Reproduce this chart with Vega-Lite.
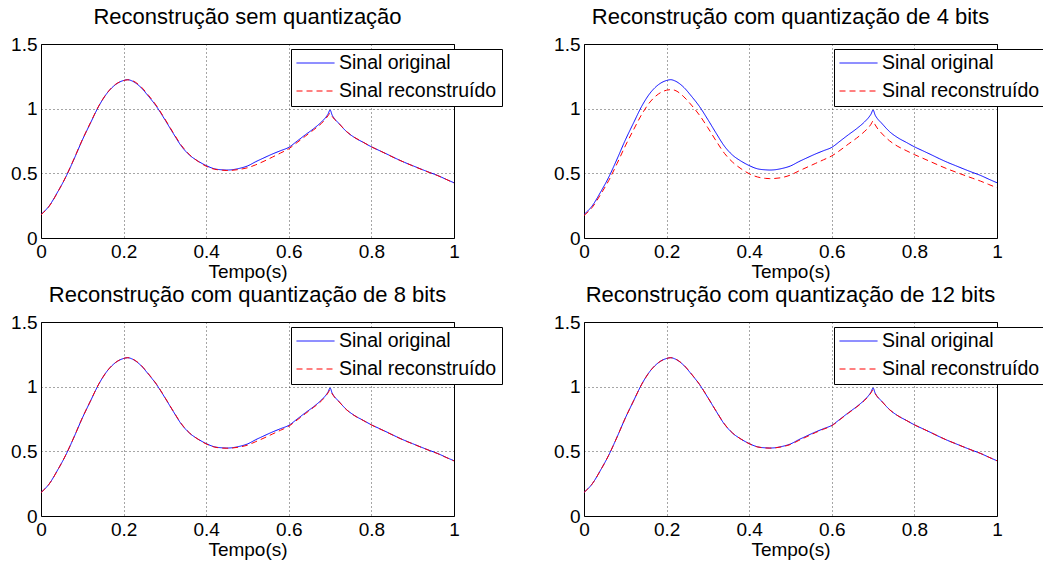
{
  "$schema": "https://vega.github.io/schema/vega-lite/v6.json",
  "background": "white",
  "padding": {"left": 10, "top": 5, "right": 0, "bottom": 0},
  "datasets": {
    "sig": [
      {"t":0.00,"orig":0.182,"q0":0.180,"q4":0.174,"q8":0.181,"q12":0.182},
      {"t":0.02,"orig":0.249,"q0":0.246,"q4":0.237,"q8":0.248,"q12":0.249},
      {"t":0.04,"orig":0.354,"q0":0.352,"q4":0.336,"q8":0.353,"q12":0.353},
      {"t":0.06,"orig":0.471,"q0":0.473,"q4":0.445,"q8":0.472,"q12":0.471},
      {"t":0.08,"orig":0.610,"q0":0.613,"q4":0.575,"q8":0.611,"q12":0.610},
      {"t":0.10,"orig":0.757,"q0":0.759,"q4":0.712,"q8":0.758,"q12":0.757},
      {"t":0.12,"orig":0.890,"q0":0.893,"q4":0.837,"q8":0.891,"q12":0.890},
      {"t":0.14,"orig":1.020,"q0":1.022,"q4":0.957,"q8":1.021,"q12":1.020},
      {"t":0.16,"orig":1.120,"q0":1.121,"q4":1.052,"q8":1.120,"q12":1.120},
      {"t":0.18,"orig":1.185,"q0":1.187,"q4":1.113,"q8":1.186,"q12":1.185},
      {"t":0.20,"orig":1.218,"q0":1.217,"q4":1.143,"q8":1.218,"q12":1.218},
      {"t":0.21,"orig":1.224,"q0":1.223,"q4":1.147,"q8":1.224,"q12":1.224},
      {"t":0.22,"orig":1.215,"q0":1.218,"q4":1.142,"q8":1.216,"q12":1.216},
      {"t":0.24,"orig":1.170,"q0":1.176,"q4":1.097,"q8":1.173,"q12":1.172},
      {"t":0.26,"orig":1.097,"q0":1.104,"q4":1.028,"q8":1.100,"q12":1.099},
      {"t":0.28,"orig":1.015,"q0":1.021,"q4":0.948,"q8":1.018,"q12":1.017},
      {"t":0.30,"orig":0.915,"q0":0.920,"q4":0.852,"q8":0.917,"q12":0.916},
      {"t":0.32,"orig":0.810,"q0":0.815,"q4":0.750,"q8":0.812,"q12":0.811},
      {"t":0.34,"orig":0.710,"q0":0.716,"q4":0.655,"q8":0.713,"q12":0.712},
      {"t":0.36,"orig":0.640,"q0":0.643,"q4":0.586,"q8":0.641,"q12":0.641},
      {"t":0.38,"orig":0.595,"q0":0.593,"q4":0.536,"q8":0.594,"q12":0.595},
      {"t":0.40,"orig":0.560,"q0":0.555,"q4":0.497,"q8":0.557,"q12":0.559},
      {"t":0.42,"orig":0.535,"q0":0.532,"q4":0.472,"q8":0.533,"q12":0.534},
      {"t":0.44,"orig":0.527,"q0":0.524,"q4":0.461,"q8":0.525,"q12":0.526},
      {"t":0.45,"orig":0.5255,"q0":0.522,"q4":0.459,"q8":0.524,"q12":0.525},
      {"t":0.46,"orig":0.527,"q0":0.523,"q4":0.460,"q8":0.525,"q12":0.526},
      {"t":0.48,"orig":0.538,"q0":0.530,"q4":0.468,"q8":0.533,"q12":0.536},
      {"t":0.50,"orig":0.557,"q0":0.543,"q4":0.487,"q8":0.548,"q12":0.553},
      {"t":0.52,"orig":0.590,"q0":0.566,"q4":0.518,"q8":0.575,"q12":0.584},
      {"t":0.54,"orig":0.620,"q0":0.594,"q4":0.547,"q8":0.603,"q12":0.614},
      {"t":0.56,"orig":0.649,"q0":0.625,"q4":0.576,"q8":0.633,"q12":0.644},
      {"t":0.58,"orig":0.675,"q0":0.657,"q4":0.605,"q8":0.663,"q12":0.671},
      {"t":0.60,"orig":0.701,"q0":0.690,"q4":0.635,"q8":0.694,"q12":0.698},
      {"t":0.62,"orig":0.749,"q0":0.738,"q4":0.678,"q8":0.742,"q12":0.746},
      {"t":0.64,"orig":0.798,"q0":0.787,"q4":0.726,"q8":0.791,"q12":0.795},
      {"t":0.66,"orig":0.845,"q0":0.836,"q4":0.772,"q8":0.840,"q12":0.842},
      {"t":0.68,"orig":0.900,"q0":0.889,"q4":0.826,"q8":0.893,"q12":0.896},
      {"t":0.69,"orig":0.935,"q0":0.925,"q4":0.858,"q8":0.930,"q12":0.931},
      {"t":0.695,"orig":0.958,"q0":0.945,"q4":0.880,"q8":0.952,"q12":0.953},
      {"t":0.70,"orig":0.990,"q0":0.965,"q4":0.905,"q8":0.975,"q12":0.975},
      {"t":0.705,"orig":0.950,"q0":0.940,"q4":0.875,"q8":0.945,"q12":0.946},
      {"t":0.71,"orig":0.925,"q0":0.920,"q4":0.850,"q8":0.922,"q12":0.923},
      {"t":0.72,"orig":0.890,"q0":0.890,"q4":0.812,"q8":0.889,"q12":0.890},
      {"t":0.74,"orig":0.822,"q0":0.823,"q4":0.751,"q8":0.821,"q12":0.822},
      {"t":0.76,"orig":0.775,"q0":0.776,"q4":0.708,"q8":0.774,"q12":0.775},
      {"t":0.78,"orig":0.740,"q0":0.741,"q4":0.676,"q8":0.739,"q12":0.740},
      {"t":0.80,"orig":0.705,"q0":0.705,"q4":0.645,"q8":0.704,"q12":0.705},
      {"t":0.82,"orig":0.675,"q0":0.675,"q4":0.617,"q8":0.674,"q12":0.675},
      {"t":0.84,"orig":0.645,"q0":0.644,"q4":0.589,"q8":0.644,"q12":0.645},
      {"t":0.86,"orig":0.614,"q0":0.613,"q4":0.561,"q8":0.613,"q12":0.614},
      {"t":0.88,"orig":0.585,"q0":0.585,"q4":0.534,"q8":0.584,"q12":0.585},
      {"t":0.90,"orig":0.559,"q0":0.558,"q4":0.510,"q8":0.558,"q12":0.559},
      {"t":0.92,"orig":0.533,"q0":0.532,"q4":0.486,"q8":0.532,"q12":0.533},
      {"t":0.94,"orig":0.508,"q0":0.507,"q4":0.463,"q8":0.507,"q12":0.508},
      {"t":0.96,"orig":0.484,"q0":0.483,"q4":0.440,"q8":0.483,"q12":0.484},
      {"t":0.98,"orig":0.455,"q0":0.455,"q4":0.414,"q8":0.454,"q12":0.455},
      {"t":1.00,"orig":0.427,"q0":0.425,"q4":0.388,"q8":0.426,"q12":0.427}
    ]
  },
  "data": {"name": "sig"},
  "columns": 2,
  "spacing": {"column": 130, "row": 84},
  "bounds": "flush",
  "concat": [
    {
      "title": "Reconstrução sem quantização",
      "width": 413, "height": 194,
      "transform": [{"fold": ["orig", "q0"], "as": ["serie", "v"]}],
      "mark": {"type": "line", "strokeWidth": 1, "clip": true, "interpolate": "monotone"},
      "encoding": {
        "x": {"field": "t", "type": "quantitative", "scale": {"domain": [0, 1], "nice": false}, "axis": {"values": [0, 0.2, 0.4, 0.6, 0.8, 1], "format": "~g", "title": "Tempo(s)"}},
        "y": {"field": "v", "type": "quantitative", "scale": {"domain": [0, 1.5], "nice": false}, "axis": {"values": [0, 0.5, 1, 1.5], "format": "~g", "title": null}},
        "color": {"field": "serie", "type": "nominal", "scale": {"domain": ["orig", "q0"], "range": ["#0000ff", "#ff0000"]}, "legend": {"labelExpr": "datum.value == 'orig' ? 'Sinal original' : 'Sinal reconstruído'"}},
        "strokeDash": {"field": "serie", "type": "nominal", "scale": {"domain": ["orig", "q0"], "range": [[1, 0], [6, 4]]}, "legend": {"labelExpr": "datum.value == 'orig' ? 'Sinal original' : 'Sinal reconstruído'"}}
      }
    },
    {
      "title": "Reconstrução com quantização de 4 bits",
      "width": 413, "height": 194,
      "transform": [{"fold": ["orig", "q4"], "as": ["serie", "v"]}],
      "mark": {"type": "line", "strokeWidth": 1, "clip": true, "interpolate": "monotone"},
      "encoding": {
        "x": {"field": "t", "type": "quantitative", "scale": {"domain": [0, 1], "nice": false}, "axis": {"values": [0, 0.2, 0.4, 0.6, 0.8, 1], "format": "~g", "title": "Tempo(s)"}},
        "y": {"field": "v", "type": "quantitative", "scale": {"domain": [0, 1.5], "nice": false}, "axis": {"values": [0, 0.5, 1, 1.5], "format": "~g", "title": null}},
        "color": {"field": "serie", "type": "nominal", "scale": {"domain": ["orig", "q4"], "range": ["#0000ff", "#ff0000"]}, "legend": {"labelExpr": "datum.value == 'orig' ? 'Sinal original' : 'Sinal reconstruído'"}},
        "strokeDash": {"field": "serie", "type": "nominal", "scale": {"domain": ["orig", "q4"], "range": [[1, 0], [6, 4]]}, "legend": {"labelExpr": "datum.value == 'orig' ? 'Sinal original' : 'Sinal reconstruído'"}}
      }
    },
    {
      "title": "Reconstrução com quantização de 8 bits",
      "width": 413, "height": 194,
      "transform": [{"fold": ["orig", "q8"], "as": ["serie", "v"]}],
      "mark": {"type": "line", "strokeWidth": 1, "clip": true, "interpolate": "monotone"},
      "encoding": {
        "x": {"field": "t", "type": "quantitative", "scale": {"domain": [0, 1], "nice": false}, "axis": {"values": [0, 0.2, 0.4, 0.6, 0.8, 1], "format": "~g", "title": "Tempo(s)"}},
        "y": {"field": "v", "type": "quantitative", "scale": {"domain": [0, 1.5], "nice": false}, "axis": {"values": [0, 0.5, 1, 1.5], "format": "~g", "title": null}},
        "color": {"field": "serie", "type": "nominal", "scale": {"domain": ["orig", "q8"], "range": ["#0000ff", "#ff0000"]}, "legend": {"labelExpr": "datum.value == 'orig' ? 'Sinal original' : 'Sinal reconstruído'"}},
        "strokeDash": {"field": "serie", "type": "nominal", "scale": {"domain": ["orig", "q8"], "range": [[1, 0], [6, 4]]}, "legend": {"labelExpr": "datum.value == 'orig' ? 'Sinal original' : 'Sinal reconstruído'"}}
      }
    },
    {
      "title": "Reconstrução com quantização de 12 bits",
      "width": 413, "height": 194,
      "transform": [{"fold": ["orig", "q12"], "as": ["serie", "v"]}],
      "mark": {"type": "line", "strokeWidth": 1, "clip": true, "interpolate": "monotone"},
      "encoding": {
        "x": {"field": "t", "type": "quantitative", "scale": {"domain": [0, 1], "nice": false}, "axis": {"values": [0, 0.2, 0.4, 0.6, 0.8, 1], "format": "~g", "title": "Tempo(s)"}},
        "y": {"field": "v", "type": "quantitative", "scale": {"domain": [0, 1.5], "nice": false}, "axis": {"values": [0, 0.5, 1, 1.5], "format": "~g", "title": null}},
        "color": {"field": "serie", "type": "nominal", "scale": {"domain": ["orig", "q12"], "range": ["#0000ff", "#ff0000"]}, "legend": {"labelExpr": "datum.value == 'orig' ? 'Sinal original' : 'Sinal reconstruído'"}},
        "strokeDash": {"field": "serie", "type": "nominal", "scale": {"domain": ["orig", "q12"], "range": [[1, 0], [6, 4]]}, "legend": {"labelExpr": "datum.value == 'orig' ? 'Sinal original' : 'Sinal reconstruído'"}}
      }
    }
  ],
  "resolve": {
    "scale": {"x": "independent", "y": "independent", "color": "independent", "strokeDash": "independent"},
    "legend": {"color": "independent", "strokeDash": "independent"}
  },
  "config": {
    "font": "Liberation Sans",
    "view": {"stroke": "#000000", "strokeWidth": 1},
    "axis": {
      "labelFont": "Liberation Sans", "labelFontSize": 19, "labelColor": "#000000",
      "titleFont": "Liberation Sans", "titleFontSize": 19, "titleFontWeight": "normal", "titleColor": "#000000",
      "grid": true, "gridColor": "#000000", "gridDash": [1, 3], "gridOpacity": 0.7, "gridWidth": 1,
      "domain": false, "ticks": false, "labelPadding": 4, "titlePadding": 1, "labelFlush": false, "labelOverlap": false
    },
    "title": {"font": "Liberation Sans", "fontSize": 22, "fontWeight": "normal", "color": "#000000", "offset": 6},
    "legend": {
      "orient": "none", "legendX": 250, "legendY": 5, "title": null,
      "strokeColor": "#000000", "fillColor": "#ffffff", "padding": 5,
      "symbolType": "stroke", "symbolSize": 1444, "symbolStrokeWidth": 1,
      "labelFont": "Liberation Sans", "labelFontSize": 19.5, "labelColor": "#000000",
      "clipHeight": 18, "rowPadding": 8, "labelOffset": 4, "labelLimit": 300
    }
  }
}
